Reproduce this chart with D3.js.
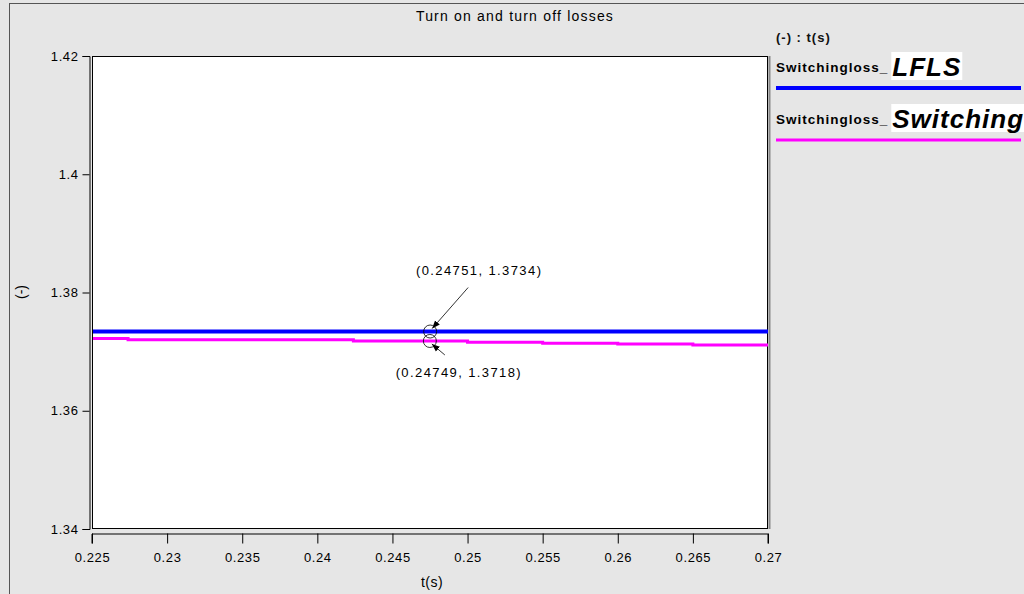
<!DOCTYPE html>
<html>
<head>
<meta charset="utf-8">
<script src="https://cdn.jsdelivr.net/npm/d3@7"></script>
<style>
  html, body { margin: 0; padding: 0; background: #e6e6e6; }
  svg { display: block; }
  text { font-family: "Liberation Sans", Arial, sans-serif; fill: #000; }
</style>
</head>
<body>
<svg id="chart" width="1024" height="594"></svg>
<script>
// Series data: time (s) and switching loss values
const lflsT = [0.225, 0.27];
const lflsV = [1.3734, 1.3734];
const swT = [0.225, 0.2274, 0.2424, 0.25, 0.255, 0.26, 0.265, 0.27];
const swV = [1.3722, 1.3720, 1.3718, 1.3716, 1.3714, 1.3713, 1.3711, 1.3711];

const xTicks = [0.225, 0.23, 0.235, 0.24, 0.245, 0.25, 0.255, 0.26, 0.265, 0.27];
const xTickLabels = ["0.225", "0.23", "0.235", "0.24", "0.245", "0.25", "0.255", "0.26", "0.265", "0.27"];
const yTicks = [1.34, 1.36, 1.38, 1.4, 1.42];
const yTickLabels = ["1.34", "1.36", "1.38", "1.4", "1.42"];

// Cursor readouts
const markers = [
  { t: 0.24751, v: 1.3734, label: "(0.24751, 1.3734)", dx: 49, dy: -57, ax: 38, ay: -44 },
  { t: 0.24749, v: 1.3718, label: "(0.24749, 1.3718)", dx: 29, dy: 36, ax: 15, ay: 14 }
];

const svg = d3.select("#chart");
const plot = { left: 92, right: 768, top: 56, bottom: 529 };

const x = d3.scaleLinear().domain([0.225, 0.27]).range([plot.left, plot.right]);
const y = d3.scaleLinear().domain([1.34, 1.42]).range([plot.bottom, plot.top]);

// Outer panel frame
svg.append("rect").attr("x", 9.5).attr("y", 3.5).attr("width", 1020).attr("height", 600)
  .attr("fill", "#e6e6e6").attr("stroke", "#555").attr("stroke-width", 1);

// Title
svg.append("text").attr("x", 515).attr("y", 21).attr("text-anchor", "middle")
  .style("font-size", "14px").style("letter-spacing", "1.2px")
  .text("Turn on and turn off losses");

// Plot area
svg.append("rect").attr("x", plot.left + 0.5).attr("y", plot.top + 0.5)
  .attr("width", plot.right - plot.left - 1).attr("height", plot.bottom - plot.top - 1)
  .attr("fill", "#fff").attr("stroke", "#000");
svg.append("line").attr("x1", plot.right + 1.5).attr("x2", plot.right + 1.5)
  .attr("y1", plot.top).attr("y2", plot.bottom).attr("stroke", "#888").attr("stroke-width", 2);

// Axes
const yAxis = d3.axisLeft(y).tickValues(yTicks).tickSize(7).tickPadding(4)
  .tickFormat((d, i) => yTickLabels[i]);
const gy = svg.append("g").attr("transform", "translate(89.5,0)").call(yAxis);
gy.select(".domain").attr("d", `M-7,${plot.bottom + 0.5}H0.5V${plot.top + 0.5}H-7`).attr("stroke", "#000");
gy.selectAll("text").style("font-size", "13px").style("letter-spacing", "0.6px")
  .style("font-family", "'Liberation Sans', Arial, sans-serif");

const xAxis = d3.axisBottom(x).tickValues(xTicks).tickSize(10).tickPadding(9)
  .tickFormat((d, i) => xTickLabels[i]);
const gx = svg.append("g").attr("transform", "translate(0,533.5)").call(xAxis);
gx.select(".domain").attr("d", `M${plot.left},10V0.5H${plot.right}V10`).attr("stroke", "#000");
gx.selectAll("text").style("font-size", "13px").style("letter-spacing", "0.6px")
  .style("font-family", "'Liberation Sans', Arial, sans-serif");

// Axis titles
svg.append("text").attr("x", 432).attr("y", 587).attr("text-anchor", "middle")
  .style("font-size", "14px").style("letter-spacing", "0.5px")
  .text("t(s)");
svg.append("text").attr("transform", "translate(26,292) rotate(-90)").attr("text-anchor", "middle")
  .style("font-size", "14px").text("(-)");

// Series lines
const line = d3.line().curve(d3.curveStepAfter);
const lflsPts = lflsT.map((t, i) => [x(t), y(lflsV[i])]);
const swPts = swT.map((t, i) => [x(t), y(swV[i])]);
svg.append("clipPath").attr("id", "clip").append("rect")
  .attr("x", plot.left + 1).attr("y", plot.top).attr("width", plot.right - plot.left - 1).attr("height", plot.bottom - plot.top);
svg.append("path").attr("clip-path", "url(#clip)").attr("d", line(swPts))
  .attr("fill", "none").attr("stroke", "#ff00ff").attr("stroke-width", 3);
svg.append("path").attr("clip-path", "url(#clip)").attr("d", line(lflsPts))
  .attr("fill", "none").attr("stroke", "#0000ff").attr("stroke-width", 4);

// Cursor markers with callouts
svg.append("defs").append("marker").attr("id", "arrow").attr("viewBox", "0 0 10 10")
  .attr("refX", 10).attr("refY", 5).attr("markerWidth", 8).attr("markerHeight", 8)
  .attr("orient", "auto-start-reverse")
  .append("path").attr("d", "M0,1L10,5L0,9Z").attr("fill", "#000");

markers.forEach(m => {
  const px = x(m.t), py = y(m.v);
  svg.append("circle").attr("cx", px).attr("cy", py).attr("r", 6.5)
    .attr("fill", "none").attr("stroke", "#000").attr("stroke-width", 0.8);
  svg.append("line").attr("x1", px + m.ax).attr("y1", py + m.ay)
    .attr("x2", px + 2).attr("y2", py + (m.ay < 0 ? -3 : 3))
    .attr("stroke", "#333").attr("stroke-width", 1).attr("marker-end", "url(#arrow)");
  svg.append("text").attr("x", px + m.dx).attr("y", py + m.dy).attr("text-anchor", "middle")
    .style("font-size", "13px").style("letter-spacing", "1.4px").text(m.label);
});

// Legend
svg.append("text").attr("x", 776).attr("y", 42).style("font-size", "13px").style("font-weight", "bold")
  .style("letter-spacing", "1px").style("fill", "#111").text("(-) : t(s)");

const legend = [
  { prefix: "Switchingloss_", name: "LFLS", color: "#0000ff", y: 72, w: 4 },
  { prefix: "Switchingloss_", name: "Switching", color: "#ff00ff", y: 124, w: 3 }
];
legend.forEach(l => {
  const g = svg.append("g");
  const pre = g.append("text").attr("x", 776).attr("y", l.y).style("font-size", "13.5px")
    .style("font-weight", "bold").style("letter-spacing", "1px").text(l.prefix);
  const pw = pre.node().getComputedTextLength();
  const box = g.append("rect").attr("fill", "#fff");
  const nm = g.append("text").attr("x", 776 + pw + 4).attr("y", l.y + 4)
    .style("font-size", "26px").style("font-weight", "bold").style("font-style", "italic")
    .style("letter-spacing", "1px").text(l.name);
  const bb = nm.node().getBBox();
  box.attr("x", bb.x - 1).attr("y", l.y - 20).attr("width", bb.width + 2).attr("height", 28);
  g.append("line").attr("x1", 776).attr("x2", 1021).attr("y1", l.y + 16).attr("y2", l.y + 16)
    .attr("stroke", l.color).attr("stroke-width", l.w);
});
</script>
</body>
</html>
